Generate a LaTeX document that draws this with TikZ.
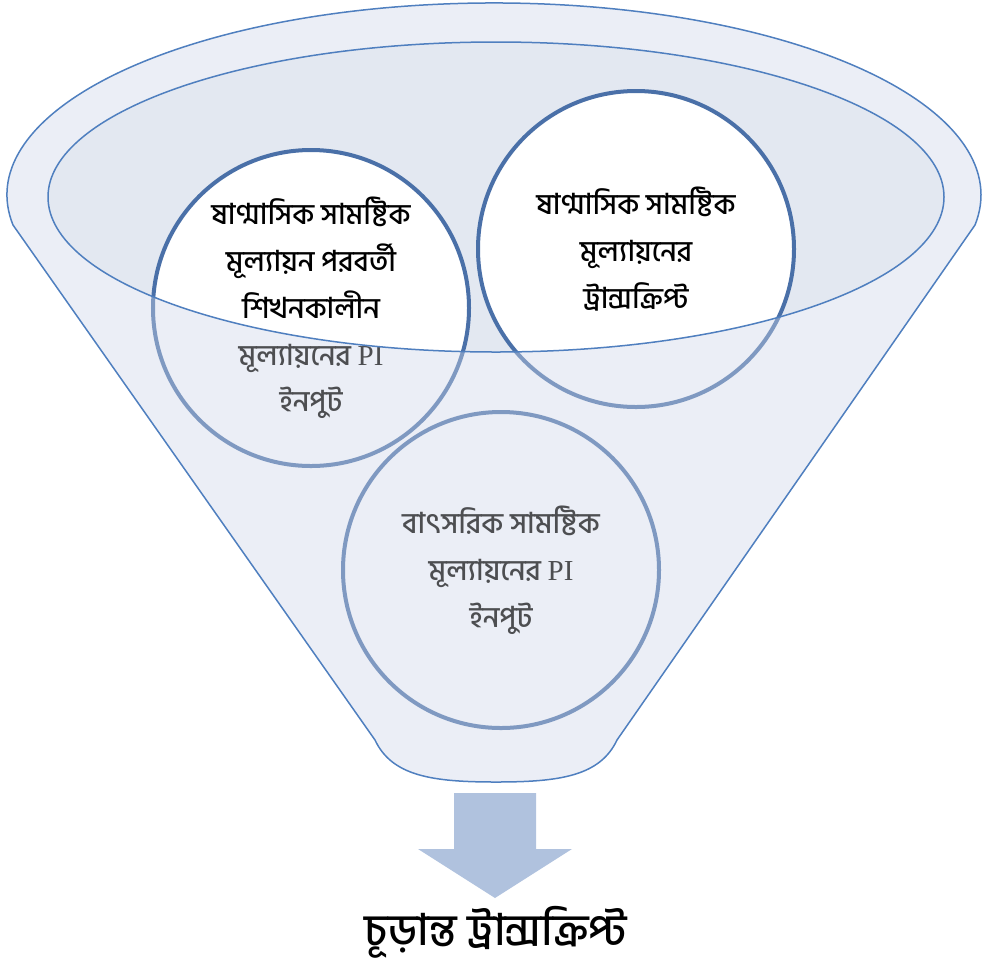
\documentclass[tikz,border=0pt]{standalone}
\usepackage{fontspec}
\newfontfamily\bn[Script=Bengali,UprightFont={* Medium}]{Hind Siliguri}
\newfontfamily\lat{Liberation Serif}
\definecolor{rim}{HTML}{4F7FBF}
\definecolor{ring}{HTML}{4A70A8}
\definecolor{body}{HTML}{EBEEF6}
\definecolor{inner}{HTML}{E3E8F1}
\definecolor{arrowc}{HTML}{B0C2DE}
\begin{document}
\begin{tikzpicture}[x=0.2mm,y=-0.2mm,
  funnel/.style={insert path={(13,225) arc[start angle=171, end angle=369, x radius=487, y radius=192]
    -- (617,740) .. controls (600,776) and (560,782) .. (496,782) .. controls (432,782) and (392,776) .. (375,740) -- cycle}},
  bubble/.style={circle, draw=ring, line width=0.8mm, minimum size=63.2mm, inner sep=0pt, align=center,
    font=\bn\fontsize{16.5}{26.6}\selectfont}]
\useasboundingbox (0,0) rectangle (984,975);
\fill[body, funnel];
\fill[inner] (496,197) ellipse[x radius=448, y radius=155];
% white only inside the mouth
\begin{scope}
\clip (496,197) ellipse[x radius=448, y radius=155];
\fill[white] (311,308) circle[radius=158];
\fill[white] (636,249) circle[radius=158];
\fill[white] (501,570) circle[radius=158];
\end{scope}
\node[bubble] (half1) at (311,308) {ষাণ্মাসিক সামষ্টিক\\মূল্যায়ন পরবর্তী\\শিখনকালীন\\মূল্যায়নের {\lat PI}\\ইনপুট};
\node[bubble] (half2) at (636,249) {ষাণ্মাসিক সামষ্টিক\\মূল্যায়নের\\ট্রান্সক্রিপ্ট};
\node[bubble] (year) at (501,570) {বাৎসরিক সামষ্টিক\\মূল্যায়নের {\lat PI}\\ইনপুট};
% front of the funnel
\fill[body, opacity=.33, even odd rule, funnel] (496,197) ellipse[x radius=448, y radius=155];
\draw[rim, line width=0.3mm, funnel];
\draw[rim, line width=0.3mm] (496,197) ellipse[x radius=448, y radius=155];
\fill[arrowc] (454,793) -- (536,793) -- (536,849) -- (572,849) -- (495,898) -- (418,849) -- (454,849) -- cycle;
\node[font=\bn\fontsize{25}{30}\selectfont] (final) at (496,932) {চূড়ান্ত ট্রান্সক্রিপ্ট};
\end{tikzpicture}
\end{document}
